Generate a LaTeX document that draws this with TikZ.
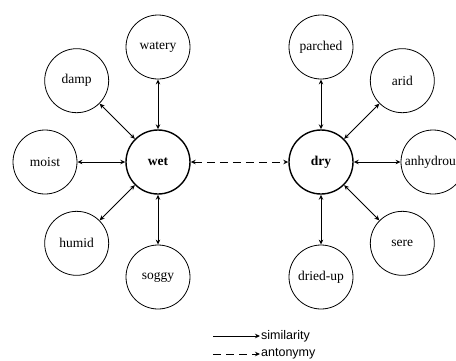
\documentclass[tikz,border=0pt]{standalone}
\usepackage{fontspec}
\setmainfont{Liberation Serif}
\setsansfont{Liberation Sans}
\usetikzlibrary{arrows.meta, positioning}

\begin{document}
\begin{tikzpicture}[x=1pt,y=-1pt,>={Stealth[open,length=5pt,width=4.5pt]},node distance=115pt,on grid,
  every node/.style={font=\fontsize{13.5}{16}\selectfont},
  word/.style={circle,draw,line width=0.8pt,minimum size=64pt,inner sep=0pt},
  head/.style={word,line width=1.4pt,font=\fontsize{13.5}{16}\selectfont\bfseries},
  key/.style={anchor=west,inner sep=1pt,font=\fontsize{12.5}{15}\selectfont\sffamily},
  sim/.style={<->,line width=0.9pt},
  ant/.style={<->,line width=0.9pt,dash pattern=on 8pt off 5pt}]

    \useasboundingbox (0,0) rectangle (456,360);

    \node[head] (wet) at (158,162) {wet};
    \node[word] (watery) [above =of wet] {watery};
    \node[word] (damp) [above left =of wet] {damp};
    \node[word] (moist) [left =113pt of wet] {moist};
    \node[word] (humid) [below left =of wet] {humid};
    \node[word] (soggy) [below =of wet] {soggy};

    \node[head] (dry) [right =163pt of wet] {dry};
    \node[word] (parched) [above =of dry] {parched};
    \node[word] (arid) [above right =of dry] {arid};
    \node[word] (anhydrous) [right =112pt of dry] {anhydrous};
    \node[word] (sere) [below right =of dry] {sere};
    \node[word] (driedup) [below =of dry] {dried-up};

    \path (wet) edge [sim] (watery);
    \path (wet) edge [sim] (damp);
    \path (wet) edge [sim] (moist);
    \path (wet) edge [sim] (humid);
    \path (wet) edge [sim] (soggy);
    \path (dry) edge [sim] (parched);
    \path (dry) edge [sim] (arid);
    \path (dry) edge [sim] (anhydrous);
    \path (dry) edge [sim] (sere);
    \path (dry) edge [sim] (driedup);
    \path (wet) edge [ant] (dry);

    % legend
    \node[key] (simlab) at (260,336) {similarity};
    \node[key] (antlab) at (260,354) {antonymy};
    \coordinate (sim0) at (213,336);
    \coordinate (ant0) at (213,354);
    \draw[sim,-{Stealth[length=5pt,width=4.5pt]}] (sim0) -- (simlab.west);
    \draw[ant,-{Stealth[length=5pt,width=4.5pt]}] (ant0) -- (antlab.west);

\end{tikzpicture}
\end{document}
